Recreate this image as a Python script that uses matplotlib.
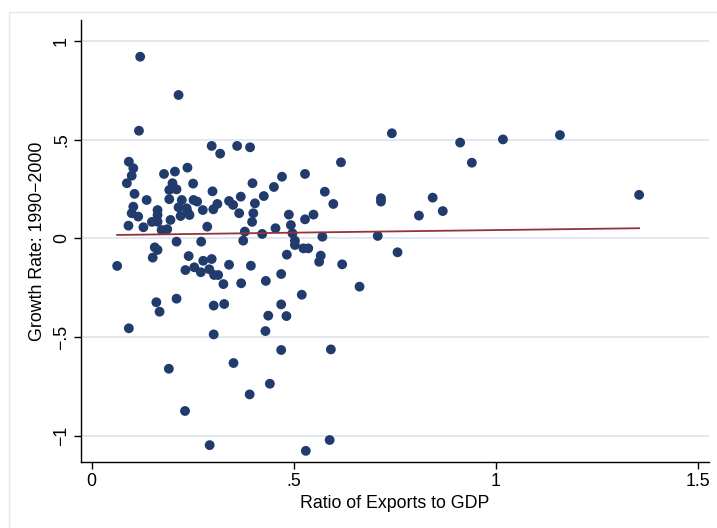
import numpy as np
import matplotlib
matplotlib.use("Agg")
import matplotlib.pyplot as plt
from matplotlib.patches import Rectangle

# Ratio of exports to GDP (x) and growth rate 1990-2000 (y), one entry per country
export_ratio = [
    0.120, 0.215, 0.117, 0.297, 0.318, 0.360, 0.392, 0.092, 0.103, 0.099,
    0.087, 0.237, 0.206, 0.179, 0.251, 0.200, 0.398, 0.471, 0.451, 0.299,
    0.106, 0.136, 0.192, 0.210, 0.192, 0.223, 0.252, 0.261, 0.426, 0.369,
    0.404, 0.340, 0.311, 0.350, 0.103, 0.163, 0.215, 0.275, 0.301, 0.099,
    0.115, 0.163, 0.237, 0.220, 0.242, 0.365, 0.400, 0.488, 0.091, 0.128,
    0.149, 0.163, 0.195, 0.397, 0.493, 0.286, 0.455, 0.173, 0.187, 0.379,
    0.422, 0.497, 0.210, 0.271, 0.375, 0.503, 0.156, 0.235, 0.063, 0.163,
    0.151, 0.240, 0.232, 0.254, 0.270, 0.276, 0.297, 0.291, 0.303, 0.313,
    0.326, 0.340, 0.370, 0.394, 0.431, 0.469, 0.483, 0.503, 0.524, 0.536,
    0.571, 0.708, 0.757, 0.567, 0.563, 0.620, 0.663, 0.520, 0.469, 0.482,
    0.469, 0.592, 0.589, 0.530, 0.160, 0.168, 0.210, 0.092, 0.302, 0.328,
    0.437, 0.302, 0.430, 0.191, 0.351, 0.441, 0.391, 0.231, 0.292, 0.743,
    0.912, 0.941, 1.018, 1.159, 1.355, 0.528, 0.617, 0.577, 0.598, 0.528,
    0.549, 0.716, 0.716, 0.844, 0.810, 0.869,
]
growth_rate = [
    0.920, 0.726, 0.545, 0.468, 0.429, 0.468, 0.461, 0.388, 0.355, 0.317,
    0.279, 0.358, 0.338, 0.326, 0.277, 0.279, 0.279, 0.312, 0.260, 0.238,
    0.225, 0.194, 0.245, 0.248, 0.198, 0.194, 0.194, 0.186, 0.214, 0.211,
    0.177, 0.189, 0.174, 0.169, 0.160, 0.143, 0.157, 0.143, 0.147, 0.127,
    0.110, 0.118, 0.135, 0.113, 0.118, 0.127, 0.127, 0.120, 0.064, 0.056,
    0.083, 0.084, 0.093, 0.083, 0.067, 0.059, 0.051, 0.042, 0.046, 0.034,
    0.022, 0.025, -0.017, -0.017, -0.012, -0.012, -0.046, 0.152, -0.140, -0.059,
    -0.098, -0.090, -0.161, -0.147, -0.172, -0.114, -0.105, -0.157, -0.186, -0.186,
    -0.232, -0.134, -0.228, -0.139, -0.216, -0.181, -0.083, -0.034, -0.051, -0.051,
    0.008, 0.012, -0.071, -0.088, -0.119, -0.132, -0.245, -0.286, -0.335, -0.394,
    -0.566, -0.563, -1.022, -1.077, -0.324, -0.372, -0.306, -0.456, -0.341, -0.333,
    -0.392, -0.487, -0.470, -0.661, -0.632, -0.737, -0.791, -0.875, -1.048, 0.532,
    0.485, 0.383, 0.501, 0.523, 0.220, 0.326, 0.385, 0.236, 0.174, 0.096,
    0.120, 0.203, 0.186, 0.206, 0.115, 0.138,
]

# fitted regression line: growth = intercept + slope * ratio
fit_intercept = 0.0153
fit_slope = 0.0263

x_ticks = [0, 0.5, 1, 1.5]
x_tick_labels = ["0", ".5", "1", "1.5"]
y_ticks = [-1, -0.5, 0, 0.5, 1]
y_tick_labels = ["\u22121", "\u2212.5", "0", ".5", "1"]

marker_color = "#213b6d"
fit_color = "#90353b"
grid_color = "#e3e7f0"

plt.rcParams["font.family"] = ["Liberation Sans", "DejaVu Sans"]

W, H = 717, 528
fig = plt.figure(figsize=(W / 100, H / 100), dpi=100)
fig.patch.set_facecolor("white")

# light outer frame around the graph region (only top/left fall inside the canvas)
fig.patches.append(Rectangle((9 / W, -0.05), 1.1, 1.05 - 12 / H, transform=fig.transFigure,
                             fill=False, edgecolor="#e6e6ec", linewidth=1.0))

left, right, bottom, top = 81 / W, 709 / W, (H - 462.3) / H, (H - 20) / H
ax = fig.add_axes([left, bottom, right - left, top - bottom])

x = np.array(export_ratio)
y = np.array(growth_rate)

ax.scatter(x, y, s=50, color=marker_color, edgecolors="none", zorder=3)

xf = np.array([x.min(), x.max()])
ax.plot(xf, fit_intercept + fit_slope * xf, color=fit_color, linewidth=1.3, zorder=4)

ax.set_xlim(-0.0265, 1.528)
ax.set_ylim(-1.135, 1.106)

ax.set_xticks(x_ticks)
ax.set_xticklabels(x_tick_labels, fontsize=12.8)
ax.set_yticks(y_ticks)
ax.set_yticklabels(y_tick_labels, fontsize=12.8, rotation=90, va="center")

ax.yaxis.grid(True, color=grid_color, linewidth=1.4)
ax.xaxis.grid(False)
ax.set_axisbelow(True)

for side in ("top", "right"):
    ax.spines[side].set_visible(False)
for side in ("left", "bottom"):
    ax.spines[side].set_color("black")
    ax.spines[side].set_linewidth(1.0)

ax.tick_params(axis="both", direction="out", length=5, width=1.0, colors="black", pad=3)

ax.set_xlabel("Ratio of Exports to GDP", fontsize=12.8, labelpad=3)
ax.set_ylabel("Growth Rate: 1990\u22122000", fontsize=12.8, labelpad=5)

fig.savefig("out.png", dpi=100, facecolor="white")
